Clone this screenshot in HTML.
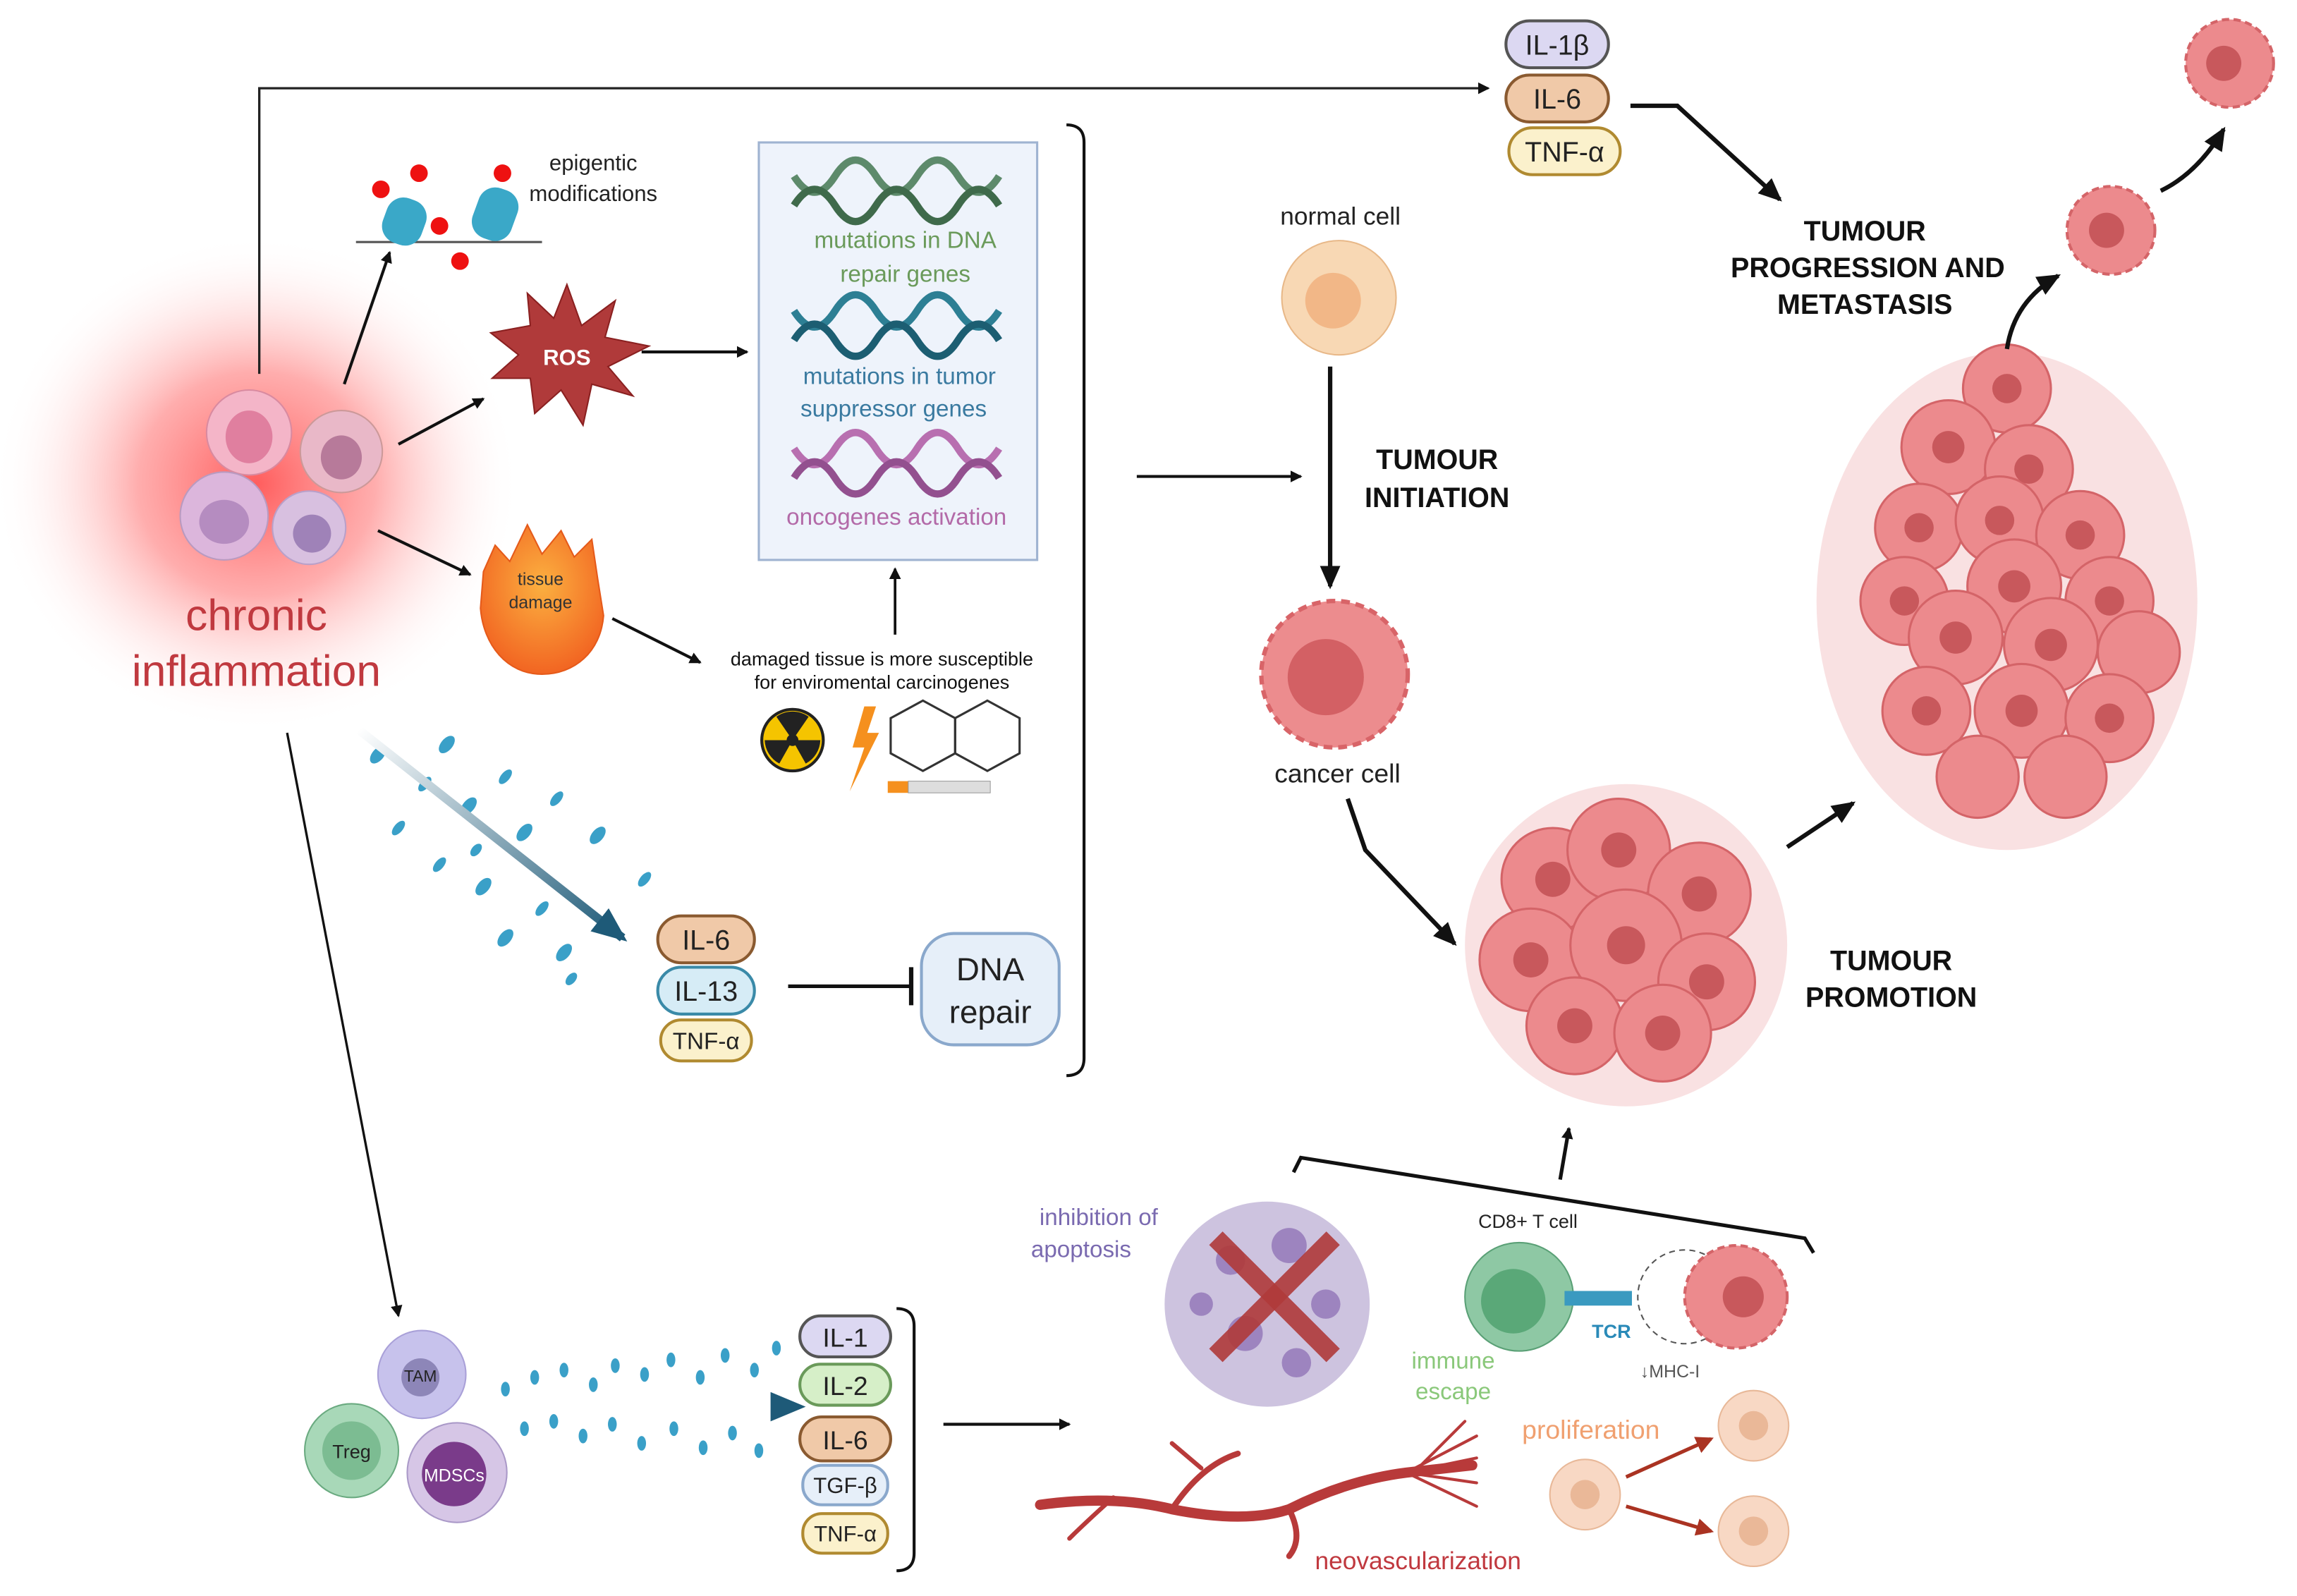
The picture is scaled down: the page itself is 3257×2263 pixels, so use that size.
<!DOCTYPE html>
<html><head><meta charset="utf-8"><style>
html,body{margin:0;padding:0;background:#fff;}
svg{display:block;}
text{font-family:"Liberation Sans",Arial,sans-serif;}
</style></head><body>
<svg width="3257" height="2263" viewBox="0 0 1568 1089" xmlns="http://www.w3.org/2000/svg">
<defs>
<radialGradient id="glow" cx="0.5" cy="0.5" r="0.5">
<stop offset="0" stop-color="#f55" stop-opacity="0.95"/>
<stop offset="0.45" stop-color="#f77" stop-opacity="0.6"/>
<stop offset="1" stop-color="#fff" stop-opacity="0"/>
</radialGradient>
<radialGradient id="fire" cx="0.5" cy="0.4" r="0.6">
<stop offset="0" stop-color="#fbb040"/><stop offset="1" stop-color="#f26522"/>
</radialGradient>
<marker id="ah" markerWidth="8" markerHeight="8" refX="7" refY="4" orient="auto" markerUnits="userSpaceOnUse"><path d="M0,0 L8,4 L0,8 z" fill="#111"/></marker>
<marker id="ahb" markerWidth="16" markerHeight="14" refX="14" refY="7" orient="auto" markerUnits="userSpaceOnUse"><path d="M0,0 L16,7 L0,14 z" fill="#111"/></marker>
<marker id="ahr" markerWidth="12" markerHeight="12" refX="10" refY="6" orient="auto" markerUnits="userSpaceOnUse"><path d="M0,0 L12,6 L0,12 z" fill="#a32"/></marker>
<marker id="aht" markerWidth="24" markerHeight="20" refX="20" refY="10" orient="auto" markerUnits="userSpaceOnUse"><path d="M0,0 L24,10 L0,20 z" fill="#1e5a78"/></marker>
<linearGradient id="teal" x1="0" y1="0" x2="1" y2="1"><stop offset="0" stop-color="#fff"/><stop offset="1" stop-color="#1e5a78"/></linearGradient>
<linearGradient id="teal2" x1="0" y1="0" x2="1" y2="0"><stop offset="0" stop-color="#fff"/><stop offset="1" stop-color="#1e5a78"/></linearGradient>
</defs>

<ellipse cx="175" cy="330" rx="180" ry="170" fill="url(#glow)"/>

<circle cx="170" cy="295" r="29" fill="#f4b5c8" stroke="#d98aa0"/><ellipse cx="170" cy="298" rx="16" ry="18" fill="#e07f9f"/>
<circle cx="233" cy="308" r="28" fill="#e9b8c8" stroke="#c99"/><ellipse cx="233" cy="312" rx="14" ry="15" fill="#b77a9a"/>
<circle cx="153" cy="352" r="30" fill="#dcb6dc" stroke="#b99ac0"/><ellipse cx="153" cy="356" rx="17" ry="15" fill="#b58cc0"/>
<circle cx="211" cy="360" r="25" fill="#d8c0e0" stroke="#b9a0c9"/><ellipse cx="213" cy="364" rx="13" ry="13" fill="#9f82b8"/>

<text x="175" y="430" font-size="30" fill="#c0393f" text-anchor="middle">chronic</text>
<text x="175" y="468" font-size="30" fill="#c0393f" text-anchor="middle">inflammation</text>

<polyline points="177,255 177,60 1016,60" fill="none" stroke="#222" stroke-width="1.6" marker-end="url(#ah)"/>

<line x1="235" y1="262" x2="266" y2="172" stroke="#111" stroke-width="2" marker-end="url(#ah)"/>
<line x1="272" y1="303" x2="330" y2="272" stroke="#111" stroke-width="2" marker-end="url(#ah)"/>
<line x1="258" y1="362" x2="321" y2="392" stroke="#111" stroke-width="2" marker-end="url(#ah)"/>

<line x1="243" y1="165" x2="370" y2="165" stroke="#555" stroke-width="1.5"/>
<rect x="262" y="135" width="28" height="32" rx="12" fill="#3aa8c8" transform="rotate(20 276 151)"/>
<rect x="324" y="128" width="28" height="36" rx="12" fill="#3aa8c8" transform="rotate(20 338 146)"/>
<circle cx="260" cy="129" r="6" fill="#e11"/><circle cx="286" cy="118" r="6" fill="#e11"/><circle cx="300" cy="154" r="6" fill="#e11"/><circle cx="314" cy="178" r="6" fill="#e11"/><circle cx="343" cy="118" r="6" fill="#e11"/>
<text x="405" y="116" font-size="15" fill="#222" text-anchor="middle">epigentic</text>
<text x="405" y="137" font-size="15" fill="#222" text-anchor="middle">modifications</text>

<polygon points="387,194 397,222 420,205 413,230 443,236 415,250 432,270 404,262 398,290 383,266 365,282 362,258 336,258 354,242 335,227 362,222 360,200 378,217" fill="#b03a3a" stroke="#8a2020"/>
<text x="387" y="249" font-size="15" font-weight="bold" fill="#fff" text-anchor="middle">ROS</text>
<line x1="438" y1="240" x2="510" y2="240" stroke="#111" stroke-width="2" marker-end="url(#ah)"/>

<path d="M330,390 L338,372 L348,383 L360,358 L370,378 L383,362 L392,380 L404,368 L408,395 L412,420 C410,445 392,460 370,460 C346,460 330,440 328,415 Z" fill="url(#fire)" stroke="#e55a1a"/>
<text x="369" y="399" font-size="12" fill="#333" text-anchor="middle">tissue</text>
<text x="369" y="415" font-size="12" fill="#333" text-anchor="middle">damage</text>
<line x1="418" y1="422" x2="478" y2="452" stroke="#111" stroke-width="2" marker-end="url(#ah)"/>

<rect x="518" y="97" width="190" height="285" fill="#eef3fb" stroke="#9fb3d1" stroke-width="1.5"/>
<g fill="none" stroke-width="5">
<path d="M542,120 q14,22 28,0 t28,0 t28,0 t28,0 t28,0" stroke="#5d8a6b"/><path d="M542,140 q14,-22 28,0 t28,0 t28,0 t28,0 t28,0" stroke="#3f6a4b"/>
<path d="M542,212 q14,22 28,0 t28,0 t28,0 t28,0 t28,0" stroke="#2d7f94"/><path d="M542,232 q14,-22 28,0 t28,0 t28,0 t28,0 t28,0" stroke="#1c5e72"/>
<path d="M542,306 q14,22 28,0 t28,0 t28,0 t28,0 t28,0" stroke="#b86fb0"/><path d="M542,326 q14,-22 28,0 t28,0 t28,0 t28,0 t28,0" stroke="#93508f"/>
</g>
<text x="618" y="169" font-size="16" fill="#6a9a5a" text-anchor="middle">mutations in DNA</text>
<text x="618" y="192" font-size="16" fill="#6a9a5a" text-anchor="middle">repair genes</text>
<text x="614" y="262" font-size="16" fill="#3a7aa0" text-anchor="middle">mutations in tumor</text>
<text x="610" y="284" font-size="16" fill="#3a7aa0" text-anchor="middle">suppressor genes</text>
<text x="612" y="358" font-size="16" fill="#b36aa8" text-anchor="middle">oncogenes activation</text>
<line x1="611" y1="433" x2="611" y2="388" stroke="#111" stroke-width="1.8" marker-end="url(#ah)"/>
<text x="602" y="454" font-size="13" fill="#111" text-anchor="middle">damaged tissue is more susceptible</text>
<text x="602" y="470" font-size="13" fill="#111" text-anchor="middle">for enviromental carcinogenes</text>
<circle cx="541" cy="505" r="21" fill="#f5c400" stroke="#222" stroke-width="2"/><circle cx="541" cy="505" r="4" fill="#222"/>
<path d="M541,505 L530,489 A19,19 0 0 1 552,489 Z M541,505 L560,505 A19,19 0 0 1 550,521 Z M541,505 L532,521 A19,19 0 0 1 522,505 Z" fill="#222"/>
<polygon points="590,482 582,510 590,510 580,540 600,500 592,500 598,482" fill="#f5901e"/>
<polygon points="608,490 630,478 652,490 652,514 630,526 608,514" fill="none" stroke="#333" stroke-width="1.5"/>
<polygon points="652,490 674,478 696,490 696,514 674,526 652,514" fill="none" stroke="#333" stroke-width="1.5"/>
<rect x="606" y="533" width="14" height="8" fill="#f5901e"/><rect x="620" y="533" width="56" height="8" fill="#ddd" stroke="#999" stroke-width="0.5"/>

<path d="M728,85 Q740,85 740,97 L740,722 Q740,734 728,734" fill="none" stroke="#111" stroke-width="2"/>
<line x1="776" y1="325" x2="888" y2="325" stroke="#111" stroke-width="2" marker-end="url(#ah)"/>

<g fill="#3aa0c8">
<ellipse cx="258" cy="515" rx="4" ry="7" transform="rotate(40 258 515)"/><ellipse cx="290" cy="535" rx="3" ry="6" transform="rotate(40 290 535)"/><ellipse cx="305" cy="508" rx="4" ry="7" transform="rotate(40 305 508)"/><ellipse cx="272" cy="565" rx="3" ry="6" transform="rotate(40 272 565)"/><ellipse cx="320" cy="550" rx="4" ry="7" transform="rotate(40 320 550)"/><ellipse cx="345" cy="530" rx="3" ry="6" transform="rotate(40 345 530)"/><ellipse cx="358" cy="568" rx="4" ry="7" transform="rotate(40 358 568)"/><ellipse cx="300" cy="590" rx="3" ry="6" transform="rotate(40 300 590)"/><ellipse cx="330" cy="605" rx="4" ry="7" transform="rotate(40 330 605)"/><ellipse cx="380" cy="545" rx="3" ry="6" transform="rotate(40 380 545)"/><ellipse cx="408" cy="570" rx="4" ry="7" transform="rotate(40 408 570)"/><ellipse cx="370" cy="620" rx="3" ry="6" transform="rotate(40 370 620)"/><ellipse cx="345" cy="640" rx="4" ry="7" transform="rotate(40 345 640)"/><ellipse cx="440" cy="600" rx="3" ry="6" transform="rotate(40 440 600)"/><ellipse cx="385" cy="650" rx="4" ry="7" transform="rotate(40 385 650)"/><ellipse cx="390" cy="668" rx="3" ry="5" transform="rotate(40 390 668)"/><ellipse cx="325" cy="580" rx="3" ry="5" transform="rotate(40 325 580)"/>
</g>
<line x1="245" y1="498" x2="425" y2="640" stroke="url(#teal)" stroke-width="6" marker-end="url(#aht)"/>

<rect x="449" y="625" width="66" height="32" rx="16" fill="#f0c9a8" stroke="#8a5a30" stroke-width="2"/><text x="482" y="648" font-size="19" fill="#222" text-anchor="middle">IL-6</text>
<rect x="449" y="660" width="66" height="32" rx="16" fill="#d6ecf6" stroke="#3a8aa8" stroke-width="2"/><text x="482" y="683" font-size="19" fill="#222" text-anchor="middle">IL-13</text>
<rect x="451" y="696" width="62" height="28" rx="14" fill="#fbf1cc" stroke="#b08a30" stroke-width="2"/><text x="482" y="716" font-size="16" fill="#222" text-anchor="middle">TNF-α</text>
<line x1="538" y1="673" x2="622" y2="673" stroke="#111" stroke-width="2.5"/><line x1="622" y1="660" x2="622" y2="686" stroke="#111" stroke-width="3"/>
<rect x="629" y="637" width="94" height="76" rx="22" fill="#e6eff9" stroke="#8aa8cc" stroke-width="2"/>
<text x="676" y="669" font-size="22" fill="#222" text-anchor="middle">DNA</text>
<text x="676" y="698" font-size="22" fill="#222" text-anchor="middle">repair</text>

<line x1="196" y1="500" x2="272" y2="898" stroke="#111" stroke-width="1.6" marker-end="url(#ah)"/>

<circle cx="288" cy="938" r="30" fill="#c7c2ec" stroke="#a9a0d8"/><circle cx="287" cy="940" r="13" fill="#8d86b8"/><text x="287" y="943" font-size="11" fill="#222" text-anchor="middle">TAM</text>
<circle cx="240" cy="990" r="32" fill="#a8d8b8" stroke="#6aaa80"/><circle cx="240" cy="990" r="20" fill="#7cbc92"/><text x="240" y="995" font-size="13" fill="#222" text-anchor="middle">Treg</text>
<circle cx="312" cy="1005" r="34" fill="#d6c6e6" stroke="#aa99c8"/><circle cx="310" cy="1006" r="22" fill="#7a3b8a"/><text x="310" y="1011" font-size="12" fill="#fff" text-anchor="middle">MDSCs</text>

<g fill="#3aa0c8">
<ellipse cx="345" cy="948" rx="3" ry="5"/><ellipse cx="365" cy="940" rx="3" ry="5"/><ellipse cx="385" cy="935" rx="3" ry="5"/><ellipse cx="405" cy="945" rx="3" ry="5"/><ellipse cx="420" cy="932" rx="3" ry="5"/><ellipse cx="440" cy="938" rx="3" ry="5"/><ellipse cx="458" cy="928" rx="3" ry="5"/><ellipse cx="478" cy="940" rx="3" ry="5"/><ellipse cx="495" cy="925" rx="3" ry="5"/><ellipse cx="515" cy="935" rx="3" ry="5"/><ellipse cx="358" cy="975" rx="3" ry="5"/><ellipse cx="378" cy="970" rx="3" ry="5"/><ellipse cx="398" cy="980" rx="3" ry="5"/><ellipse cx="418" cy="972" rx="3" ry="5"/><ellipse cx="438" cy="985" rx="3" ry="5"/><ellipse cx="460" cy="975" rx="3" ry="5"/><ellipse cx="480" cy="988" rx="3" ry="5"/><ellipse cx="500" cy="978" rx="3" ry="5"/><ellipse cx="518" cy="990" rx="3" ry="5"/><ellipse cx="530" cy="920" rx="3" ry="5"/>
</g>
<line x1="325" y1="960" x2="546" y2="960" stroke="url(#teal2)" stroke-width="5" marker-end="url(#aht)"/>

<rect x="546" y="898" width="62" height="28" rx="14" fill="#dcd8f2" stroke="#555" stroke-width="2"/><text x="577" y="919" font-size="18" fill="#222" text-anchor="middle">IL-1</text>
<rect x="546" y="931" width="62" height="28" rx="14" fill="#d6efc8" stroke="#6a9a5a" stroke-width="2"/><text x="577" y="952" font-size="18" fill="#222" text-anchor="middle">IL-2</text>
<rect x="546" y="967" width="62" height="30" rx="15" fill="#f0c9a8" stroke="#8a5a30" stroke-width="2"/><text x="577" y="989" font-size="18" fill="#222" text-anchor="middle">IL-6</text>
<rect x="548" y="1000" width="58" height="27" rx="13" fill="#e6eff9" stroke="#8aa8cc" stroke-width="2"/><text x="577" y="1019" font-size="15" fill="#222" text-anchor="middle">TGF-β</text>
<rect x="548" y="1033" width="58" height="27" rx="13" fill="#fbf1cc" stroke="#b08a30" stroke-width="2"/><text x="577" y="1052" font-size="15" fill="#222" text-anchor="middle">TNF-α</text>
<path d="M612,893 Q624,893 624,905 L624,1060 Q624,1072 612,1072" fill="none" stroke="#111" stroke-width="2"/>
<line x1="644" y1="972" x2="730" y2="972" stroke="#111" stroke-width="2" marker-end="url(#ah)"/>

<rect x="1028" y="14" width="70" height="32" rx="16" fill="#dcd8f2" stroke="#555" stroke-width="2"/><text x="1063" y="37" font-size="19" fill="#222" text-anchor="middle">IL-1β</text>
<rect x="1028" y="51" width="70" height="32" rx="16" fill="#f0c9a8" stroke="#8a5a30" stroke-width="2"/><text x="1063" y="74" font-size="19" fill="#222" text-anchor="middle">IL-6</text>
<rect x="1030" y="87" width="76" height="32" rx="16" fill="#fbf1cc" stroke="#b08a30" stroke-width="2"/><text x="1068" y="110" font-size="19" fill="#222" text-anchor="middle">TNF-α</text>
<polyline points="1113,72 1145,72 1215,136" fill="none" stroke="#111" stroke-width="3" marker-end="url(#ahb)"/>
<g font-size="19" font-weight="bold" fill="#111" text-anchor="middle">
<text x="1273" y="164">TUMOUR</text><text x="1275" y="189">PROGRESSION AND</text><text x="1273" y="214">METASTASIS</text>
<text x="981" y="320">TUMOUR</text><text x="981" y="346">INITIATION</text>
<text x="1291" y="662">TUMOUR</text><text x="1291" y="687">PROMOTION</text>
</g>

<text x="915" y="153" font-size="17" fill="#222" text-anchor="middle">normal cell</text>
<circle cx="914" cy="203" r="39" fill="#f8d8b4" stroke="#e8b888"/><circle cx="910" cy="205" r="19" fill="#f2b787"/>
<line x1="908" y1="250" x2="908" y2="400" stroke="#111" stroke-width="3" marker-end="url(#ahb)"/>
<circle cx="911" cy="460" r="50" fill="#ec8c8e" stroke="#d86468" stroke-width="3" stroke-dasharray="6 4"/><circle cx="905" cy="462" r="26" fill="#d36064"/>
<text x="913" y="534" font-size="18" fill="#222" text-anchor="middle">cancer cell</text>
<polyline points="920,545 932,580 993,644" fill="none" stroke="#111" stroke-width="3" marker-end="url(#ahb)"/>

<g>
<circle cx="1110" cy="645" r="110" fill="#f8dcdd" opacity="0.85"/>
<g fill="#ec8a8d" stroke="#d46468" stroke-width="1.5">
<circle cx="1060" cy="600" r="35"/><circle cx="1105" cy="580" r="35"/><circle cx="1160" cy="610" r="35"/><circle cx="1045" cy="655" r="35"/><circle cx="1110" cy="645" r="38"/><circle cx="1165" cy="670" r="33"/><circle cx="1075" cy="700" r="33"/><circle cx="1135" cy="705" r="33"/>
</g>
<g fill="#c8585c"><circle cx="1060" cy="600" r="12"/><circle cx="1105" cy="580" r="12"/><circle cx="1160" cy="610" r="12"/><circle cx="1045" cy="655" r="12"/><circle cx="1110" cy="645" r="13"/><circle cx="1165" cy="670" r="12"/><circle cx="1075" cy="700" r="12"/><circle cx="1135" cy="705" r="12"/></g>
</g>
<line x1="1220" y1="578" x2="1265" y2="548" stroke="#111" stroke-width="3" marker-end="url(#ahb)"/>

<ellipse cx="1370" cy="410" rx="130" ry="170" fill="#f8dcdd" opacity="0.85"/>
<g fill="#ec8a8d" stroke="#d46468" stroke-width="1.5">
<circle cx="1370" cy="265" r="30"/><circle cx="1330" cy="305" r="32"/><circle cx="1385" cy="320" r="30"/><circle cx="1310" cy="360" r="30"/><circle cx="1365" cy="355" r="30"/><circle cx="1420" cy="365" r="30"/><circle cx="1300" cy="410" r="30"/><circle cx="1375" cy="400" r="32"/><circle cx="1440" cy="410" r="30"/><circle cx="1335" cy="435" r="32"/><circle cx="1400" cy="440" r="32"/><circle cx="1460" cy="445" r="28"/><circle cx="1315" cy="485" r="30"/><circle cx="1380" cy="485" r="32"/><circle cx="1440" cy="490" r="30"/><circle cx="1350" cy="530" r="28"/><circle cx="1410" cy="530" r="28"/>
</g>
<g fill="#c8585c"><circle cx="1370" cy="265" r="10"/><circle cx="1330" cy="305" r="11"/><circle cx="1385" cy="320" r="10"/><circle cx="1310" cy="360" r="10"/><circle cx="1365" cy="355" r="10"/><circle cx="1420" cy="365" r="10"/><circle cx="1300" cy="410" r="10"/><circle cx="1375" cy="400" r="11"/><circle cx="1440" cy="410" r="10"/><circle cx="1335" cy="435" r="11"/><circle cx="1400" cy="440" r="11"/><circle cx="1315" cy="485" r="10"/><circle cx="1380" cy="485" r="11"/><circle cx="1440" cy="490" r="10"/></g>
<path d="M1370,238 Q1375,205 1405,188" fill="none" stroke="#111" stroke-width="3" marker-end="url(#ahb)"/>
<circle cx="1441" cy="157" r="30" fill="#ec8a8d" stroke="#d46468" stroke-width="2" stroke-dasharray="5 3"/><circle cx="1438" cy="157" r="12" fill="#c8585c"/>
<path d="M1475,130 Q1500,118 1518,88" fill="none" stroke="#111" stroke-width="3" marker-end="url(#ahb)"/>
<circle cx="1522" cy="43" r="30" fill="#ec8a8d" stroke="#d46468" stroke-width="2" stroke-dasharray="5 3"/><circle cx="1518" cy="43" r="12" fill="#c8585c"/>

<path d="M883,800 L888,790 L1232,845 L1238,855" fill="none" stroke="#111" stroke-width="2.5"/>
<line x1="1065" y1="805" x2="1071" y2="770" stroke="#111" stroke-width="2.5" marker-end="url(#ah)"/>

<text x="750" y="836" font-size="16" fill="#7a6ab0" text-anchor="middle">inhibition of</text>
<text x="738" y="858" font-size="16" fill="#7a6ab0" text-anchor="middle">apoptosis</text>
<circle cx="865" cy="890" r="70" fill="#c8bcdc" opacity="0.9"/>
<g fill="#9d84bf"><circle cx="840" cy="860" r="10"/><circle cx="880" cy="850" r="12"/><circle cx="905" cy="890" r="10"/><circle cx="850" cy="910" r="12"/><circle cx="820" cy="890" r="8"/><circle cx="885" cy="930" r="10"/></g>
<line x1="830" y1="845" x2="910" y2="925" stroke="#b03a3a" stroke-width="13" opacity="0.9"/>
<line x1="910" y1="845" x2="830" y2="925" stroke="#b03a3a" stroke-width="13" opacity="0.9"/>

<text x="1043" y="838" font-size="13" fill="#222" text-anchor="middle">CD8+ T cell</text>
<circle cx="1037" cy="885" r="37" fill="#8ec8a4" stroke="#5aa076"/><circle cx="1033" cy="888" r="22" fill="#5aa878"/>
<rect x="1068" y="881" width="46" height="10" fill="#3a9ac0"/>
<circle cx="1150" cy="885" r="32" fill="none" stroke="#555" stroke-dasharray="4 3"/>
<circle cx="1185" cy="885" r="35" fill="#ec8a8d" stroke="#d46468" stroke-width="2" stroke-dasharray="5 3"/><circle cx="1190" cy="885" r="14" fill="#c8585c"/>
<text x="1100" y="913" font-size="13" font-weight="bold" fill="#2a8ab8" text-anchor="middle">TCR</text>
<text x="1140" y="940" font-size="12" fill="#555" text-anchor="middle">↓MHC-I</text>
<text x="992" y="934" font-size="16" fill="#8ac87a" text-anchor="middle">immune</text>
<text x="992" y="955" font-size="16" fill="#8ac87a" text-anchor="middle">escape</text>

<text x="1086" y="982" font-size="18" fill="#f0a070" text-anchor="middle">proliferation</text>
<circle cx="1197" cy="973" r="24" fill="#f8d8c4" stroke="#e8b898"/><circle cx="1197" cy="973" r="10" fill="#eab898"/>
<circle cx="1082" cy="1020" r="24" fill="#f8d8c4" stroke="#e8b898"/><circle cx="1082" cy="1020" r="10" fill="#eab898"/>
<circle cx="1197" cy="1045" r="24" fill="#f8d8c4" stroke="#e8b898"/><circle cx="1197" cy="1045" r="10" fill="#eab898"/>
<line x1="1110" y1="1008" x2="1168" y2="982" stroke="#a32" stroke-width="2.5" marker-end="url(#ahr)"/>
<line x1="1110" y1="1028" x2="1168" y2="1045" stroke="#a32" stroke-width="2.5" marker-end="url(#ahr)"/>

<g fill="none" stroke="#b83a3a" stroke-linecap="round">
<path d="M710,1027 Q760,1020 800,1030 Q850,1040 880,1030 Q920,1010 960,1005 L1005,1000" stroke-width="7"/>
<path d="M800,1030 Q820,1000 845,992" stroke-width="4"/><path d="M820,1002 L800,985" stroke-width="3"/>
<path d="M880,1030 Q890,1050 880,1062" stroke-width="4"/>
<path d="M960,1005 L1008,980 M960,1005 L1008,995 M960,1005 L1008,1012 M960,1005 L1008,1028 M970,1000 L1000,970" stroke-width="2"/>
<path d="M760,1022 Q740,1040 730,1050" stroke-width="3"/>
</g>
<text x="968" y="1071" font-size="17" fill="#c0393f" text-anchor="middle">neovascularization</text>
</svg>
</body></html>
